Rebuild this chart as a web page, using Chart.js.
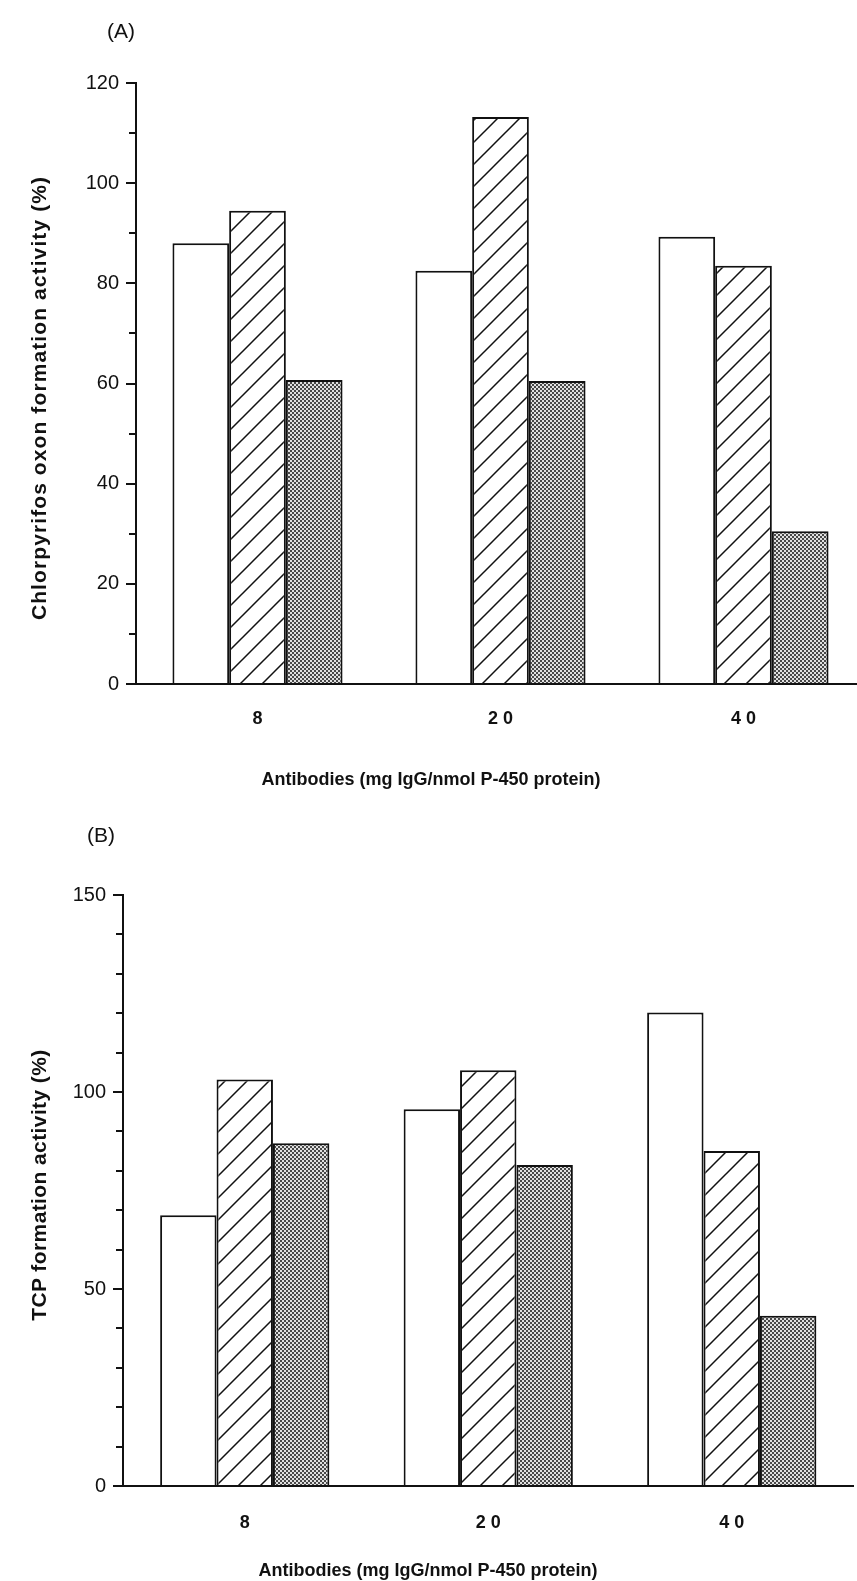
<!DOCTYPE html>
<html><head><meta charset="utf-8">
<script src="https://cdn.jsdelivr.net/npm/chart.js@4.4.1/dist/chart.umd.min.js"></script>
<style>
html,body{margin:0;padding:0;background:#fff;width:857px;height:1581px;overflow:hidden;position:relative;}
.wrap{position:absolute;left:0;}
.t{position:absolute;font-family:"Liberation Sans",Arial,sans-serif;color:#111;white-space:nowrap;line-height:1;}
.lbl{font-size:21px;}
.xt{font-size:18px;font-weight:bold;transform:translate(-50%,-50%);}
.yt{font-size:21px;font-weight:bold;transform:translate(-50%,-50%) rotate(-90deg);}
</style></head><body>
<div class="wrap" style="top:0;width:870px;height:800px"><canvas id="cA"></canvas></div>
<div class="wrap" style="top:800px;width:857px;height:781px"><canvas id="cB"></canvas></div>
<div class="t lbl" style="left:107px;top:20px">(A)</div>
<div class="t lbl" style="left:87px;top:824px">(B)</div>
<div class="t xt" id="xA" style="left:431px;top:779px"></div>
<div class="t xt" id="xB" style="left:428px;top:1570px"></div>
<div class="t yt" id="yA" style="left:38px;top:398px;letter-spacing:1.1px"></div>
<div class="t yt" id="yB" style="left:38px;top:1185px;letter-spacing:0.4px"></div>
<script>
// ---- data ----
const categories = ['8', '2 0', '4 0'];
const seriesNames = ['Open', 'Hatched', 'Stippled'];
// Panel A: Chlorpyrifos oxon formation activity (%)
const oxonOpen     = [88, 82.5, 89.3];
const oxonHatched  = [94.5, 113.2, 83.5];
const oxonStippled = [60.7, 60.5, 30.5];
// Panel B: TCP formation activity (%)
const tcpOpen      = [68.7, 95.6, 120.2];
const tcpHatched   = [103.2, 105.5, 85];
const tcpStippled  = [87, 81.5, 43.2];
// axis ranges
const oxonAxis = {max: 120, major: 20, minor: 10};
const tcpAxis  = {max: 150, major: 50, minor: 10};
const xTitle = 'Antibodies (mg IgG/nmol P-450 protein)';
const yTitleA = 'Chlorpyrifos oxon formation activity (%)';
const yTitleB = 'TCP formation activity (%)';

document.getElementById('xA').textContent = xTitle;
document.getElementById('xB').textContent = xTitle;
document.getElementById('yA').textContent = yTitleA;
document.getElementById('yB').textContent = yTitleB;

// ---- styles ----
const FONT = '"Liberation Sans", Arial, Helvetica, sans-serif';
const INK = '#111';

function hatchPattern() {
  const c = document.createElement('canvas'); const s = 22;
  c.width = s; c.height = s;
  const g = c.getContext('2d');
  g.fillStyle = '#fff'; g.fillRect(0, 0, s, s);
  g.strokeStyle = INK; g.lineWidth = 1.5;
  g.beginPath();
  g.moveTo(-2, s + 2); g.lineTo(s + 2, -2);
  g.moveTo(-2, 2); g.lineTo(2, -2);
  g.moveTo(s - 2, s + 2); g.lineTo(s + 2, s - 2);
  g.stroke();
  return g.createPattern(c, 'repeat');
}
function stipplePattern() {
  const c = document.createElement('canvas');
  c.width = 4; c.height = 4;
  const g = c.getContext('2d');
  g.fillStyle = '#e0e0e0'; g.fillRect(0, 0, 4, 4);
  g.fillStyle = '#484848'; g.fillRect(0, 0, 2, 2); g.fillRect(2, 2, 2, 2);
  return g.createPattern(c, 'repeat');
}
const HATCH = hatchPattern();
const STIP = stipplePattern();

const minorTicks = {
  id: 'minorTicks',
  afterDraw(chart, args, opts) {
    const s = chart.scales.y, ctx = chart.ctx;
    ctx.save(); ctx.strokeStyle = INK; ctx.lineWidth = 2;
    for (let v = opts.step; v < opts.max; v += opts.step) {
      if (v % opts.major === 0) continue;
      const y = Math.round(s.getPixelForValue(v));
      ctx.beginPath(); ctx.moveTo(s.right - 7, y); ctx.lineTo(s.right, y); ctx.stroke();
    }
    ctx.restore();
  }
};

function makeChart(id, vals, axis, geo) {
  const ds = [
    {label: seriesNames[0], data: vals[0], backgroundColor: '#fff'},
    {label: seriesNames[1], data: vals[1], backgroundColor: HATCH},
    {label: seriesNames[2], data: vals[2], backgroundColor: STIP}
  ].map(d => Object.assign(d, {borderColor: INK, borderWidth: 2, borderSkipped: 'start',
      categoryPercentage: geo.catPct, barPercentage: 1.0}));
  return new Chart(document.getElementById(id), {
    type: 'bar',
    data: {labels: categories, datasets: ds},
    plugins: [minorTicks],
    options: {
      responsive: true, maintainAspectRatio: false, animation: false,
      layout: {padding: {top: geo.top, left: 0, right: geo.right, bottom: 0}},
      plugins: {legend: {display: false}, tooltip: {enabled: false},
        minorTicks: {step: axis.minor, major: axis.major, max: axis.max}},
      scales: {
        x: {
          z: 1,
          grid: {display: false, drawTicks: false},
          border: {color: INK, width: 2},
          ticks: {padding: geo.xPad, color: INK, font: {family: FONT, size: 18, weight: 'bold'}},
          afterFit(s) { s.height = geo.xH; }
        },
        y: {
          min: 0, max: axis.max,
          ticks: {stepSize: axis.major, padding: geo.yPad, color: INK, font: {family: FONT, size: 20}},
          grid: {drawOnChartArea: false, drawTicks: true, tickLength: 10, color: INK, lineWidth: 2},
          border: {color: INK, width: 2},
          afterFit(s) { s.width = geo.yW; }
        }
      }
    }
  });
}

makeChart('cA', [oxonOpen, oxonHatched, oxonStippled], oxonAxis,
  {top: 83, right: 5, catPct: 0.70, xH: 116, yW: 136, xPad: 24, yPad: 7});
makeChart('cB', [tcpOpen, tcpHatched, tcpStippled], tcpAxis,
  {top: 95, right: 3.5, catPct: 0.695, xH: 95, yW: 123, xPad: 26, yPad: 7});
</script>
</body></html>
